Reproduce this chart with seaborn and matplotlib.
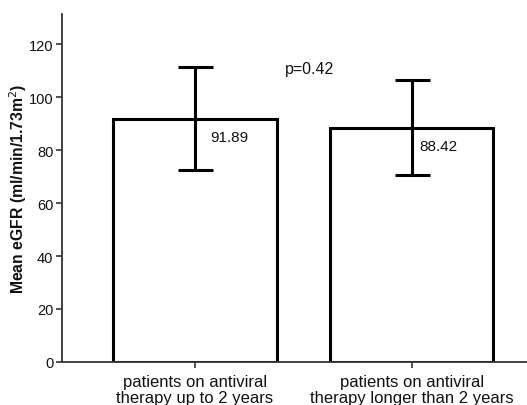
import seaborn as sns
import matplotlib.pyplot as plt
import pandas as pd

groups = ['patients on antiviral\ntherapy up to 2 years',
          'patients on antiviral\ntherapy longer than 2 years']
mean_egfr = [91.89, 88.42]
sd_egfr = [19.5, 18.0]
p_text = 'p=0.42'

df = pd.DataFrame({'group': groups, 'egfr': mean_egfr})

sns.set_style('ticks')
plt.rcParams['font.family'] = ['Liberation Sans', 'DejaVu Sans']
plt.rcParams['text.color'] = '#111111'
plt.rcParams['axes.labelcolor'] = '#111111'

fig = plt.figure(figsize=(5.27, 4.06), dpi=100)
ax = fig.add_axes([0.117, 0.106, 0.883, 0.858])

sns.barplot(data=df, x='group', y='egfr', color='white', edgecolor='black',
            linewidth=2.2, width=0.754, errorbar=None, ax=ax)
ax.errorbar(range(len(groups)), mean_egfr, yerr=sd_egfr, fmt='none',
            ecolor='black', elinewidth=2.2, capsize=12.6, capthick=2.2)

# value labels
for i, v in enumerate(mean_egfr):
    ax.text(i + 0.069 - 0.035 * i, v - 6.8, f'{v:.2f}', fontsize=11,
            va='center', ha='left')
ax.text(0.415, 110.6, p_text, fontsize=11.5, va='center', ha='left')

ax.set_xlim(-0.615, 1.532)
ax.set_ylim(0, 131.5)
ax.set_yticks([0, 20, 40, 60, 80, 100, 120])
ax.set_xlabel('')
ax.set_ylabel('Mean eGFR (ml/min/1.73m$^2$)', fontsize=11.3, fontweight='bold')
ax.yaxis.set_label_coords(-0.071, 0.5)
ax.tick_params(axis='y', labelsize=10.5, length=4, width=1.2,
               color='#333333', labelcolor='#111111', pad=2)
ax.tick_params(axis='x', labelsize=12, length=4, width=1.2,
               color='#333333', labelcolor='#111111', pad=5)
for lab in ax.get_xticklabels():
    lab.set_linespacing(1.07)
sns.despine(ax=ax)
for s in ['left', 'bottom']:
    ax.spines[s].set_linewidth(1.3)
    ax.spines[s].set_color('#333333')

fig.savefig('out.png', dpi=100)
